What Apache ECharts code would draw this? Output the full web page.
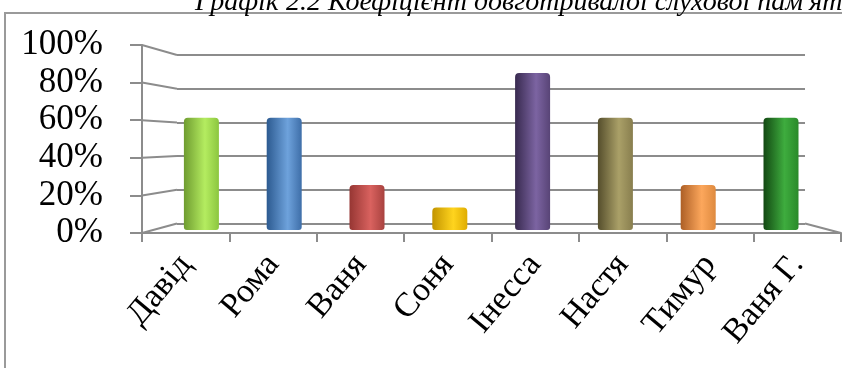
<!DOCTYPE html>
<html>
<head>
<meta charset="UTF-8">
<title>Графік 2.2</title>
<script src="https://cdn.jsdelivr.net/npm/echarts@6/dist/echarts.min.js"></script>
<style>
html, body { margin: 0; padding: 0; background: #fff; }
#chart { width: 842px; height: 368px; }
</style>
</head>
<body>
<div id="chart"></div>
<script>
// дані
var names = ['Давід', 'Рома', 'Ваня', 'Соня', 'Інесса', 'Настя', 'Тимур', 'Ваня Г.'];
var values = [60, 60, 24, 12, 84, 60, 24, 60];
var ticks = [0, 20, 40, 60, 80, 100];
// кольори циліндрів: темний край, світла середина, правий край
var barColors = [
	['#6f9c30', '#b4ec60', '#8cc63f'],
	['#2c5a90', '#6ea2dc', '#3e6ea8'],
	['#963633', '#d9625f', '#a8423f'],
	['#c29400', '#ffd41e', '#dfac00'],
	['#382a4f', '#7c64a2', '#584476'],
	['#554e2c', '#aaa068', '#887e4e'],
	['#ad5f26', '#fca75c', '#de8a3f'],
	['#124812', '#3eac3e', '#2a8a2a']
];

var gridCol = '#8c8c8c';
var serif = 'Liberation Serif';

var chart = echarts.init(document.getElementById('chart'));

var barData = values.map(function(v, i) {
	var c = barColors[i];
	return {
		value: v,
		itemStyle: {
			color: new echarts.graphic.LinearGradient(0, 0, 1, 0, [
				{offset: 0, color: c[0]},
				{offset: 0.6, color: c[1]},
				{offset: 1, color: c[2]}
			]),
			borderRadius: [4, 4, 3, 3]
		}
	};
});

var option = {
	animation: false,
	title: {
		text: 'Графік 2.2 Коефіцієнт довготривалої слухової пам\'яті',
		left: 190,
		top: -16,
		textStyle: {fontFamily: serif, fontStyle: 'italic', fontWeight: 'normal', fontSize: 28, color: '#000'}
	},
	grid: [
		{left: 177, right: 37, top: 55, bottom: 144.5},   // задня стінка
		{left: 160, right: 19.6, top: 43, bottom: 138},   // стовпчики
		{left: 142, right: 1, top: 45, bottom: 135}       // передні осі
	],
	xAxis: [
		{type: 'category', gridIndex: 0, data: names, show: false},
		{type: 'category', gridIndex: 1, data: names, show: false},
		{
			type: 'category', gridIndex: 2, data: names,
			axisLine: {lineStyle: {color: gridCol, width: 2}},
			axisTick: {show: true, length: 9, lineStyle: {color: gridCol, width: 2}},
			axisLabel: {interval: 0, rotate: 50, margin: 26, fontFamily: serif, fontSize: 34, color: '#000'}
		}
	],
	yAxis: [
		{
			type: 'value', gridIndex: 0, min: ticks[0], max: ticks[ticks.length - 1], interval: 20,
			axisLine: {show: false}, axisTick: {show: false}, axisLabel: {show: false},
			splitLine: {lineStyle: {color: gridCol, width: 2}}
		},
		{type: 'value', gridIndex: 1, min: 0, max: 100, show: false, splitLine: {show: false}},
		{
			type: 'value', gridIndex: 2, min: ticks[0], max: ticks[ticks.length - 1], interval: 20,
			axisLine: {show: true, lineStyle: {color: gridCol, width: 2}},
			axisTick: {show: true, length: 12, lineStyle: {color: gridCol, width: 2}},
			axisLabel: {formatter: '{value}%', margin: 39, fontFamily: serif, fontSize: 35, color: '#000'},
			splitLine: {show: false}
		}
	],
	series: [{
		type: 'bar',
		xAxisIndex: 1,
		yAxisIndex: 1,
		barWidth: 35,
		data: barData
	}]
};

chart.setOption(option);

// бічна стінка та підлога: лінії від передньої осі до задньої стінки
function gridRect(i) {
	return chart.getModel().getComponent('grid', i).coordinateSystem.getRect();
}
var back = gridRect(0);
var front = gridRect(2);
var shapes = [{
	type: 'rect', z: -1,
	shape: {x: 5, y: 13, width: 900, height: 420},
	style: {fill: null, stroke: '#9a9a9a', lineWidth: 2}
}];
ticks.forEach(function(t) {
	var yF = chart.convertToPixel({yAxisIndex: 2}, t);
	var yB = chart.convertToPixel({yAxisIndex: 0}, t);
	shapes.push({
		type: 'line', z: 1,
		shape: {x1: front.x, y1: yF, x2: back.x, y2: yB},
		style: {stroke: gridCol, lineWidth: 2}
	});
});
shapes.push({
	type: 'line', z: 1,
	shape: {
		x1: back.x + back.width, y1: chart.convertToPixel({yAxisIndex: 0}, 0),
		x2: front.x + front.width, y2: chart.convertToPixel({yAxisIndex: 2}, 0)
	},
	style: {stroke: gridCol, lineWidth: 2}
});
chart.setOption({graphic: shapes});
</script>
</body>
</html>
